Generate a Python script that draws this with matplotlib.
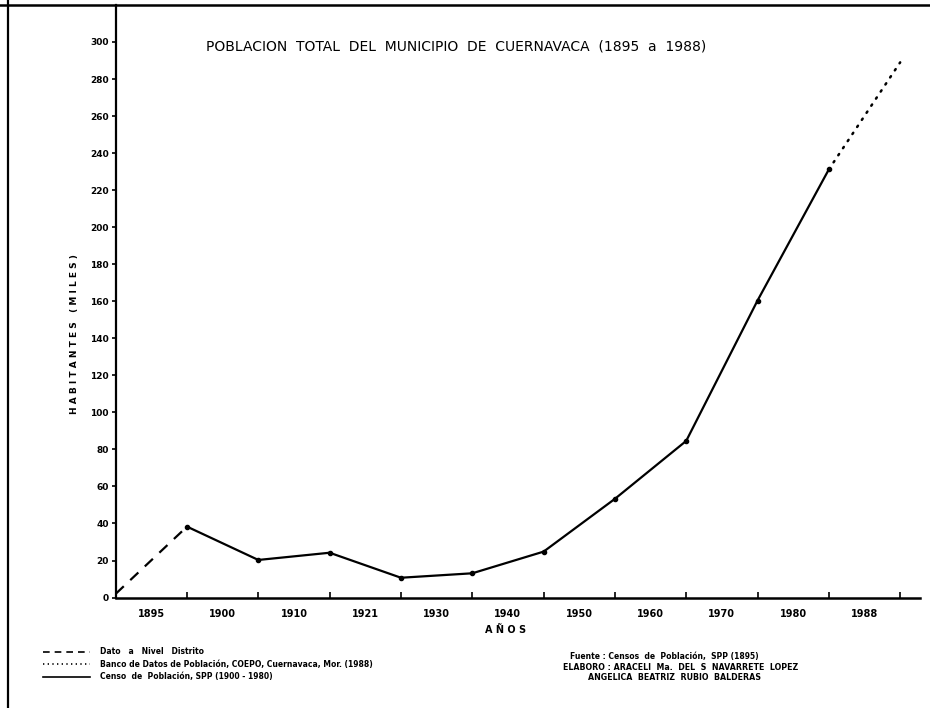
import matplotlib
matplotlib.use("Agg")
import matplotlib.pyplot as plt
from matplotlib.lines import Line2D

# x positions: 0 = axis origin, 1..11 = tick marks
year_labels = ["1895", "1900", "1910", "1921", "1930", "1940",
               "1950", "1960", "1970", "1980", "1988"]
label_pos = [i + 0.5 for i in range(len(year_labels))]
tick_pos = list(range(1, 12))

# Dato a Nivel Distrito (dashed)
dist_x = [0, 1]
dist_y = [2, 38.3]
# Censo de Poblacion, SPP 1900-1980 (solid)
censo_x = [1, 2, 3, 4, 5, 6, 7, 8, 9, 10]
censo_y = [38.3, 20.3, 24.2, 10.7, 13.1, 24.8, 53.3, 84.6, 160.4, 231.2]
# Banco de Datos COEPO 1988 (dotted)
coepo_x = [10, 11]
coepo_y = [231.2, 289]

y_ticks = list(range(0, 301, 20))

plt.rcParams["font.family"] = "DejaVu Sans"
plt.rcParams["font.weight"] = "bold"

fig = plt.figure(figsize=(9.3, 7.08), dpi=100)
ax = fig.add_axes([0.1244, 0.156, 0.865, 0.837])

ax.plot(dist_x, dist_y, color="black", lw=1.6, ls=(0, (5, 4)))
ax.plot(censo_x, censo_y, color="black", lw=1.6, marker="o", ms=3)
ax.plot(coepo_x, coepo_y, color="black", lw=1.8, ls=(0, (0.6, 2.8)),
        dash_capstyle="round")

ax.set_xlim(0, 11.28)
ax.set_ylim(0, 320)

ax.set_xticks(tick_pos)
ax.set_xticklabels([])
ax.set_xticks(label_pos, minor=True)
ax.set_xticklabels(year_labels, minor=True, fontsize=7, fontweight="bold")
ax.tick_params(axis="x", which="major", direction="in", length=4, width=1.2)
ax.tick_params(axis="x", which="minor", length=0, pad=8)

ax.set_yticks(y_ticks)
ax.set_yticklabels([str(v) for v in y_ticks], fontsize=6.5, fontweight="bold")
ax.tick_params(axis="y", direction="out", length=3, width=1.2, pad=2)

for s in ["top", "right"]:
    ax.spines[s].set_visible(False)
ax.spines["left"].set_linewidth(1.6)
ax.spines["bottom"].set_linewidth(1.8)

# frame lines of the scanned page
fig.add_artist(Line2D([0, 1], [1 - 5 / 708, 1 - 5 / 708], color="black", lw=1.8))
fig.add_artist(Line2D([8 / 930, 8 / 930], [0, 1], color="black", lw=1.6))

fig.text(456 / 930, 1 - 46 / 708,
         "POBLACION  TOTAL  DEL  MUNICIPIO  DE  CUERNAVACA  (1895  a  1988)",
         ha="center", va="center", fontsize=10, fontweight="normal")

fig.text(75 / 930, 1 - 334 / 708, "H A B I T A N T E S   ( M I L E S )",
         rotation=90, ha="center", va="center", fontsize=6.5, fontweight="bold")
fig.text(506 / 930, 1 - 630 / 708, "A Ñ O S", ha="center", va="center",
         fontsize=7, fontweight="bold")

# legend
legend_rows = [
    ((0, (4, 3)), "Dato   a   Nivel   Distrito"),
    ((0, (0.8, 2)), "Banco de Datos de Población, COEPO, Cuernavaca, Mor. (1988)"),
    ("-", "Censo  de  Población, SPP (1900 - 1980)"),
]
legend_y = [652, 664, 677]
for (style, text), yy in zip(legend_rows, legend_y):
    fy = 1 - yy / 708
    fig.add_artist(Line2D([43 / 930, 90 / 930], [fy, fy], color="black",
                          lw=1.2, ls=style))
    fig.text(100 / 930, fy, text, ha="left", va="center", fontsize=5.5,
             fontweight="bold")

fig.text(570 / 930, 1 - 656 / 708, "Fuente : Censos  de  Población,  SPP (1895)",
         ha="left", va="center", fontsize=5.5, fontweight="bold")
fig.text(563 / 930, 1 - 667 / 708, "ELABORO : ARACELI  Ma.  DEL  S  NAVARRETE  LOPEZ",
         ha="left", va="center", fontsize=5.7, fontweight="bold")
fig.text(588 / 930, 1 - 678 / 708, "ANGELICA  BEATRIZ  RUBIO  BALDERAS",
         ha="left", va="center", fontsize=5.7, fontweight="bold")

fig.savefig("out.png", dpi=100)
